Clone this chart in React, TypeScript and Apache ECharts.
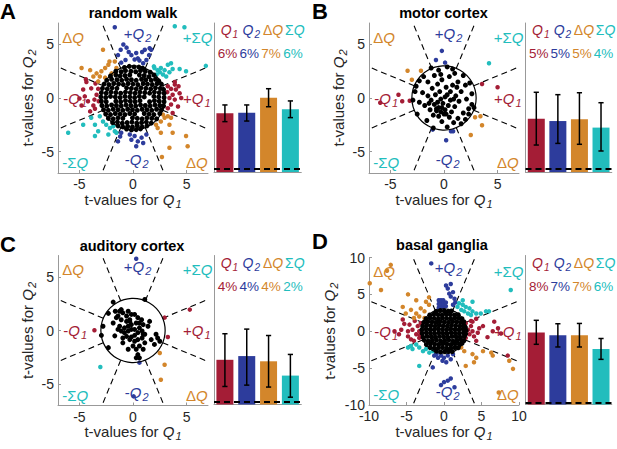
import React, { useEffect, useRef } from 'react';
import * as echarts from 'echarts';

// ---------------- data ----------------
const panelLetters = ['A', 'B', 'C', 'D'];
const panelTitles = ['random walk', 'motor cortex', 'auditory cortex', 'basal ganglia'];
const axisLimits = [7, 7, 7, 10];
const tickValues = [[-5, 0, 5], [-5, 0, 5], [-5, 0, 5], [-10, -5, 0, 5, 10]];
const circleRadius = 3;
const boundaryAngles = [22.5, 67.5, 112.5, 157.5, 202.5, 247.5, 292.5, 337.5];
const barCategories = ['Q1', 'Q2', 'ΔQ', 'ΣQ'];

const percentA = ['6%', '6%', '7%', '6%'];
const percentB = ['5%', '5%', '5%', '4%'];
const percentC = ['4%', '4%', '4%', '2%'];
const percentD = ['8%', '7%', '7%', '6%'];

const barA = [0.394, 0.398, 0.499, 0.421];
const errLowA = [0.338, 0.342, 0.438, 0.365];
const errHighA = [0.45, 0.45, 0.559, 0.477];
const barB = [0.358, 0.342, 0.354, 0.298];
const errLowB = [0.181, 0.192, 0.186, 0.141];
const errHighB = [0.535, 0.519, 0.532, 0.465];
const barC = [0.30, 0.325, 0.29, 0.194];
const errLowC = [0.121, 0.13, 0.117, 0.049];
const errHighC = [0.475, 0.506, 0.463, 0.336];
const barD = [0.483, 0.465, 0.465, 0.372];
const errLowD = [0.404, 0.386, 0.386, 0.303];
const errHighD = [0.565, 0.542, 0.544, 0.443];
const chanceLevels = [0.02, 0.02, 0.017, 0.013];

// --- panel A: random walk ---
const blackA = [
  [-0.8,2.85],[-0.35,2.95],[0.1,2.9],[0.55,2.88],[0.9,2.78],
  [-1.6,2.5],[-1.1,2.45],[-0.7,2.55],[-0.2,2.5],[0.25,2.45],[0.7,2.55],[1.15,2.5],[1.6,2.4],
  [-2.1,2.05],[-1.6,2.15],[-1.2,2.05],[-0.75,2.1],[-0.3,2.15],[0.6,2.15],[1.05,2.1],[1.5,2.0],[1.95,2.15],
  [-2.45,1.65],[-2.0,1.75],[-1.5,1.7],[-1.05,1.65],[-0.6,1.75],[-0.15,1.7],[0.3,1.65],[0.8,1.75],[1.2,1.7],[1.7,1.65],[2.1,1.75],[2.4,1.6],
  [-2.7,1.3],[-2.25,1.25],[-1.8,1.35],[-1.35,1.3],[-0.9,1.25],[-0.45,1.35],[0.0,1.3],[0.45,1.25],[0.95,1.35],[1.35,1.3],[1.8,1.25],[2.25,1.35],[2.65,1.3],
  [-2.85,0.9],[-2.4,0.85],[-1.95,0.95],[-1.5,0.9],[-0.6,0.95],[-0.15,0.9],[0.3,0.85],[0.75,0.95],[1.2,0.9],[1.65,0.85],[2.1,0.95],[2.55,0.9],[2.85,0.8],
  [-2.95,0.5],[-2.5,0.45],[-2.05,0.55],[-1.6,0.5],[-1.15,0.45],[-0.7,0.55],[-0.25,0.5],[0.2,0.45],[0.65,0.55],[1.1,0.5],[1.55,0.45],[2.0,0.55],[2.45,0.5],[2.9,0.45],
  [-3.0,0.1],[-2.55,0.05],[-2.1,0.15],[-1.65,0.1],[-1.2,0.05],[-0.75,0.15],[-0.3,0.1],[0.15,0.05],[0.6,0.15],[1.05,0.1],[1.95,0.15],[2.4,0.1],[2.9,0.05],
  [-2.95,-0.3],[-2.5,-0.35],[-1.6,-0.3],[-1.15,-0.35],[-0.7,-0.25],[-0.25,-0.3],[0.2,-0.35],[0.65,-0.25],[1.55,-0.35],[2.0,-0.25],[2.45,-0.3],[2.9,-0.35],
  [-2.9,-0.7],[-2.45,-0.75],[-2.0,-0.65],[-1.55,-0.7],[-1.1,-0.75],[-0.65,-0.65],[-0.2,-0.7],[0.25,-0.75],[0.7,-0.65],[1.15,-0.7],[1.6,-0.75],[2.05,-0.65],[2.5,-0.7],[2.85,-0.75],
  [-2.75,-1.1],[-2.3,-1.15],[-1.85,-1.05],[-1.4,-1.1],[-0.95,-1.15],[-0.5,-1.05],[-0.05,-1.1],[0.4,-1.15],[0.85,-1.05],[1.3,-1.1],[1.75,-1.15],[2.2,-1.05],[2.65,-1.1],
  [-2.55,-1.5],[-2.1,-1.55],[-1.65,-1.45],[-1.2,-1.5],[-0.75,-1.55],[-0.3,-1.45],[0.15,-1.5],[1.05,-1.45],[1.5,-1.5],[1.95,-1.55],[2.5,-1.45],
  [-2.3,-1.9],[-1.85,-1.95],[-1.4,-1.85],[-0.95,-1.9],[-0.05,-1.85],[0.4,-1.9],[0.85,-1.95],[1.3,-1.85],[1.75,-1.9],[2.2,-1.95],
  [-1.9,-2.3],[-1.45,-2.25],[-1.0,-2.35],[-0.55,-2.3],[-0.1,-2.25],[0.35,-2.35],[0.8,-2.3],[1.25,-2.25],[1.7,-2.35],
  [-1.4,-2.6],[-0.95,-2.7],[-0.5,-2.65],[-0.05,-2.7],[0.4,-2.6],[0.85,-2.7],[1.3,-2.6],
  [-0.6,-2.9],[-0.15,-2.98],[0.3,-2.95],[0.7,-2.88],
];
const q1A = [
  [-4.4,1.75],[-4.35,1.5],[-4.65,0.8],[-4.5,0.15],[-4.2,-0.3],[-3.7,-0.7],[-3.55,-1.0],[-3.9,0.9],[-3.4,0.3],[-3.25,0.85],
  [-3.6,-0.15],[-3.5,1.35],[-5.0,-0.05],[-4.8,-0.7],[-4.0,-1.25],[-3.2,-0.3],
  [3.25,1.1],[3.55,0.85],[3.9,1.25],[4.0,0.8],[4.25,1.1],[4.35,0.45],[3.7,0.3],[3.4,0.0],[3.9,-0.15],[3.55,-0.6],
  [4.2,-0.8],[3.25,-0.95],[3.7,-1.4],[3.2,0.55],[4.5,0.0],[3.9,1.5],
];
const q2A = [
  [-1.7,6.6],[-0.9,5.0],[-0.6,4.7],[-0.4,4.3],[-1.4,4.0],[-1.15,4.5],[-0.15,4.0],[0.15,3.6],[0.45,3.7],[0.85,4.3],
  [1.1,4.5],[1.55,4.65],[1.7,4.5],[1.5,4.0],[1.25,3.55],[0.6,3.5],[0.3,4.2],[-0.7,3.55],[-1.1,3.3],[0.95,3.25],
  [-1.4,-4.05],[-0.15,-3.9],[0.15,-3.55],[0.45,-4.05],[0.8,-3.7],[0.95,-4.2],[0.3,-4.5],[1.25,-3.4],[-0.3,-3.4],[-1.1,-3.25],[-1.2,-3.6],
];
const dqA = [
  [-2.8,4.5],[-4.0,2.6],[-3.4,2.3],[-3.1,2.0],[-2.95,2.5],[-2.6,2.8],[-2.3,3.1],[-2.2,3.4],[-1.7,3.4],[-1.55,2.8],
  [-2.0,2.3],[-2.6,1.9],[-3.25,1.55],[-3.7,2.0],[-4.8,2.8],
  [2.6,-2.2],[2.95,-1.85],[3.25,-1.7],[3.55,-1.85],[3.4,-2.5],[2.3,-2.8],[2.6,-3.25],[3.7,-3.25],[4.95,-3.55],[5.1,-4.5],
  [3.4,-4.65],[2.15,-2.5],[2.8,-1.55],[2.7,-5.5],
];
const sqA = [
  [3.9,6.7],[4.8,6.6],[2.0,2.8],[2.3,2.6],[2.6,2.8],[2.95,2.6],[3.25,3.1],[3.55,3.25],[3.7,2.7],[3.4,2.4],
  [2.5,2.4],[2.2,2.2],[2.8,2.2],[1.95,2.95],[4.35,2.7],[4.95,2.5],[6.8,3.0],[3.1,2.0],
  [-6.05,-3.25],[-3.9,-1.85],[-3.55,-2.5],[-3.25,-3.1],[-3.55,-3.55],[-2.8,-2.2],[-2.5,-2.5],[-2.15,-2.8],[-1.85,-2.65],
  [-1.7,-3.1],[-1.55,-3.25],[-3.1,-1.7],[-2.3,-3.4],[-4.65,-2.5],
];

// --- panel B: motor cortex ---
const blackB = [
  [-1.2,2.8],[0.3,2.9],[-0.5,2.6],[1.0,2.3],[1.8,2.1],[-1.9,2.0],[-0.9,2.1],[0.5,2.0],[2.4,1.4],[-2.6,1.1],
  [-1.5,1.5],[-0.2,1.7],[1.3,1.5],[2.0,1.2],[0.8,1.2],[-0.6,1.3],[-1.1,0.9],[0.2,1.0],[1.6,0.6],[2.6,0.4],
  [-2.0,0.5],[-0.4,0.6],[0.6,0.6],[-1.5,0.2],[-0.8,0.3],[0.3,0.3],[1.1,0.2],[2.1,-0.1],[-2.9,-0.2],[-2.3,-0.4],
  [-1.2,-0.2],[-0.3,-0.1],[0.6,-0.2],[1.4,-0.3],[2.6,-0.6],[-1.8,-0.7],[-0.9,-0.6],[-0.5,-0.9],[-0.1,-0.5],[0.4,-0.7],
  [1.0,-0.8],[2.3,-1.0],[2.8,-0.9],[-1.3,-1.1],[-0.7,-1.2],[-0.3,-1.3],[0.1,-1.1],[0.7,-1.3],[1.8,-1.4],[-2.5,-1.5],
  [-1.0,-1.6],[-0.5,-1.7],[0.0,-1.5],[0.5,-1.8],[1.3,-1.9],[2.0,-2.0],[-1.6,-2.1],[-0.2,-2.2],[0.9,-2.3],[-1.0,-2.8],
  [0.3,-2.7],[1.6,-2.4],[-0.7,-1.0],[-0.2,-0.9],[0.2,-1.5],[-0.6,-0.4],[0.1,0.1],[0.9,-0.1],[-1.4,-0.5],[1.2,1.0],
  [-0.3,2.2],[0.8,2.7],[-2.3,1.6],[2.3,-1.5],[-2.7,0.6],
];
const q1B = [[-5.95,-0.45],[-4.25,0.3],[-3.9,-0.3],[-3.2,-0.25],[3.55,1.3],[5.0,1.0]];
const q2B = [[-0.2,4.4],[-0.75,3.55],[0.1,3.3],[-1.05,-2.95],[0.65,-3.1],[0.85,-3.1],[0.2,-3.95]];
const dqB = [[-3.4,2.55],[-2.15,2.55],[-3.0,1.7],[2.9,-1.8],[3.4,-1.7],[3.55,-2.55],[2.5,-3.45]];
const sqB = [[4.2,3.25]];

// --- panel C: auditory cortex ---
const blackC = [
  [-1.85,2.65],[1.1,2.9],[-2.3,1.6],[-1.65,1.8],[-1.25,1.8],[-0.95,1.65],[-0.6,1.35],[-1.4,1.35],[-1.1,1.0],[-0.6,0.85],
  [-0.3,1.0],[0.15,1.5],[0.45,1.2],[0.8,1.0],[0.95,0.55],[0.6,0.7],[0.3,0.7],[-0.15,0.55],[-0.45,0.4],[-0.8,0.25],
  [-1.25,0.4],[-1.4,0.1],[-1.1,-0.05],[-0.8,-0.2],[-0.45,-0.05],[-0.15,0.1],[0.15,0.1],[0.6,0.25],[0.85,-0.05],[0.95,-0.35],
  [0.45,-0.2],[0.15,-0.45],[-0.15,-0.6],[-0.3,-0.85],[0.15,-1.0],[0.45,-0.85],[0.85,-0.7],[1.1,-1.15],[0.6,-1.45],[0.3,-1.75],
  [0.45,-2.25],[0.6,-2.55],[0.3,-2.55],[0.0,-1.45],[-0.6,-0.55],[-0.95,-0.7],[-2.8,0.4],[-2.95,-0.45],[-2.3,-1.6],[2.15,-0.35],
  [2.3,-0.7],[2.5,-1.0],[2.0,-1.3],[1.7,-0.85],[1.1,-0.35],[-1.1,1.95],[-1.55,1.2],[-1.85,0.7],[-1.7,-0.5],[-0.15,1.5],
  [-0.45,1.8],[1.55,0.85],[1.4,0.4],[-0.95,-1.15],[-0.45,-1.75],[0.95,-1.75],[-0.3,0.85],
];
const q1C = [[5.3,1.95],[2.95,1.2],[-3.6,0.03],[3.25,-0.6]];
const q2C = [[0.3,6.7],[0.6,-3.0],[0.06,-6.15]];
const dqC = [[2.5,-2.1],[2.95,-3.2],[2.6,-4.6]];
const sqC = [[-3.05,-3.4]];

// --- panel D: basal ganglia ---
const blackD = [
  [-1.05,2.7],[-0.5,2.8],[0.05,2.75],[0.55,2.7],[1.0,2.75],
  [-1.9,2.2],[-1.35,2.3],[-0.8,2.25],[-0.25,2.2],[0.3,2.3],[0.85,2.25],[1.4,2.2],[1.9,2.25],
  [-2.4,1.7],[-1.85,1.8],[-1.3,1.75],[-0.75,1.7],[-0.2,1.8],[0.35,1.75],[0.9,1.7],[1.45,1.8],[2.0,1.75],[2.4,1.7],
  [-2.7,1.2],[-2.15,1.3],[-1.6,1.25],[-1.05,1.2],[-0.5,1.3],[0.05,1.25],[0.6,1.2],[1.15,1.3],[1.7,1.25],[2.25,1.2],[2.65,1.3],
  [-2.85,0.7],[-2.3,0.8],[-1.75,0.75],[-1.2,0.7],[-0.65,0.8],[-0.1,0.75],[0.45,0.7],[1.0,0.8],[1.55,0.75],[2.1,0.7],[2.65,0.8],[2.85,0.55],
  [-2.95,0.2],[-2.4,0.3],[-1.85,0.25],[-1.3,0.2],[-0.75,0.3],[-0.2,0.25],[0.35,0.2],[0.9,0.3],[1.45,0.25],[2.0,0.2],[2.55,0.3],[2.95,0.1],
  [-2.9,-0.3],[-2.35,-0.2],[-1.8,-0.25],[-1.25,-0.3],[-0.7,-0.2],[-0.15,-0.25],[0.4,-0.3],[0.95,-0.2],[1.5,-0.25],[2.05,-0.3],[2.6,-0.2],[2.9,-0.35],
  [-2.8,-0.8],[-2.25,-0.7],[-1.7,-0.75],[-1.15,-0.8],[-0.6,-0.7],[-0.05,-0.75],[0.5,-0.8],[1.05,-0.7],[1.6,-0.75],[2.15,-0.8],[2.7,-0.7],
  [-2.65,-1.2],[-2.1,-1.3],[-1.55,-1.25],[-1.0,-1.2],[-0.45,-1.3],[0.1,-1.25],[0.65,-1.2],[1.2,-1.3],[1.75,-1.25],[2.3,-1.2],[2.65,-1.3],
  [-2.35,-1.8],[-1.8,-1.7],[-1.25,-1.75],[-0.7,-1.8],[-0.15,-1.7],[0.4,-1.75],[0.95,-1.8],[1.5,-1.7],[2.05,-1.75],[2.4,-1.65],
  [-1.85,-2.2],[-1.3,-2.3],[-0.75,-2.25],[-0.2,-2.2],[0.35,-2.3],[0.9,-2.25],[1.45,-2.2],[1.9,-2.25],
  [-1.0,-2.7],[-0.45,-2.8],[0.1,-2.75],[0.65,-2.7],[1.1,-2.75],
];
const q1D = [
  [2.9,1.1],[3.6,1.4],[3.8,1.3],[4.3,1.7],[3.6,0.7],[3.2,0.2],[3.8,0.0],[3.4,-0.4],[4.0,-0.7],[4.5,-0.2],
  [4.7,0.4],[2.9,-0.9],[6.7,1.3],[7.2,0.4],[8.5,-3.3],[6.5,0.0],[5.2,0.7],[4.3,-1.3],[7.6,-0.3],[5.8,-0.8],
  [-5.5,1.6],[-5.3,1.0],[-5.7,0.2],[-6.0,-0.4],[-4.8,-0.7],[-4.4,-1.1],[-3.7,-0.4],[-3.3,0.0],[-3.5,0.7],[-3.1,1.1],
  [-3.3,-0.9],[-4.0,-1.3],[-4.8,0.0],[-4.2,0.2],[-6.6,0.0],[-4.6,0.9],[-3.2,-0.5],[-3.9,1.4],
];
const q2D = [
  [-1.7,9.2],[-0.7,3.2],[-0.7,3.7],[-0.7,4.2],[-0.4,3.2],[-0.4,3.7],[-0.4,4.2],[-0.1,3.2],[-0.1,3.7],[-0.1,4.2],
  [0.25,3.4],[0.25,3.9],[0.27,6.2],[0.5,5.8],[0.9,6.4],[1.2,5.3],[0.9,4.7],[1.4,4.4],[0.7,5.1],[1.5,3.9],[1.2,3.6],
  [-1.3,-3.3],[-0.8,-3.6],[-0.4,-3.3],[0.0,-3.6],[0.5,-3.3],[0.9,-3.8],[-0.2,-4.0],[0.3,-4.2],[-1.5,-4.9],[1.2,-3.1],
  [-0.4,-7.3],[0.0,-6.9],[0.5,-6.7],[0.9,-6.4],[1.4,-7.6],[-1.0,-3.1],
];
const dqD = [
  [-9.9,6.5],[-8.4,5.6],[-7.1,9.0],[-7.6,8.2],[-4.8,5.0],[-3.7,4.2],[-2.4,4.0],[-2.0,3.6],[-3.1,3.1],[-4.4,2.9],
  [-5.5,3.3],[-5.1,2.4],[-3.7,2.4],[-3.3,2.0],[-2.6,1.8],[-4.0,1.8],[-2.6,2.7],[-2.0,4.6],
  [2.3,-2.2],[2.7,-2.7],[3.8,-3.1],[4.3,-3.6],[4.0,-4.2],[5.2,-2.7],[6.3,-2.9],[6.5,-3.3],[9.2,-5.1],[2.9,-4.7],
  [8.7,-4.0],[7.3,-8.3],
];
const sqD = [
  [8.9,5.6],[2.0,3.8],[2.5,3.6],[2.9,3.3],[3.4,3.1],[2.3,2.9],[2.7,2.7],[3.8,2.7],[4.3,2.4],[4.9,2.4],
  [5.6,2.7],[6.0,2.7],[3.2,2.4],[3.6,2.2],[1.8,3.3],[2.5,4.2],[3.8,4.0],
  [-4.8,-2.2],[-4.2,-2.4],[-3.3,-2.2],[-2.8,-2.7],[-2.4,-2.4],[-1.96,-2.9],[-1.5,-2.7],[-3.3,-4.7],[-3.7,-1.8],[-4.4,-2.0],
];

// --------------- styling / layout ---------------
const FONT = '"Liberation Sans", Arial, Helvetica, sans-serif';
const RED = '#A41D36';
const BLUE = '#2D3C9C';
const ORANGE = '#D3862B';
const CYAN = '#22BDBD';
const TEXT = '#262626';
const AXIS = '#999999';
const barColors = [RED, BLUE, ORANGE, CYAN];

const layout = [
  { sx: 58, sy: 23, sh: 150, bx: 214, by: 23, bw: 87.3, bh: 149, xGap: 16, yGap: 21 },
  { sx: 369, sy: 23, sh: 150, bx: 525.5, by: 23, bw: 86.3, bh: 149, xGap: 16, yGap: 20 },
  { sx: 58, sy: 255.5, sh: 150, bx: 214, by: 255.5, bw: 87.3, bh: 149, xGap: 13, yGap: 21 },
  { sx: 369, sy: 257.5, sh: 147.5, bx: 525.5, by: 255.5, bw: 86.3, bh: 149, xGap: 12, yGap: 30 },
];
const letterPos = [[8, 0], [320, 0], [8, 233], [320, 230]];
const titlePos = [[133, 12.5], [443.5, 12.5], [132, 246], [442, 245]];

const sectorLabelFrac = [
  [-0.8, 0.81], [0.06, 0.86], [0.86, 0.81], [-0.77, 0], [0.85, 0], [-0.77, -0.86], [0.05, -0.82], [0.85, -0.86],
];
const sectorLabelText = [
  '{n|Δ}{q|Q}', '{n|+}{q|Q}{s|2}', '{n|+Σ}{q|Q}', '{n|-}{q|Q}{s|1}', '{n|+}{q|Q}{s|1}', '{n|-Σ}{q|Q}', '{n|-}{q|Q}{s|2}', '{n|Δ}{q|Q}',
];
const sectorLabelColor = [ORANGE, BLUE, CYAN, RED, RED, CYAN, BLUE, ORANGE];
const barLabelText = ['{q|Q}{s|1}', '{q|Q}{s|2}', '{n|Δ}{q|Q}', '{n|Σ}{q|Q}'];

function rich(color: string, size = 15, sub = 11) {
  return {
    n: { color, fill: color, fontSize: size, fontFamily: FONT },
    q: { color, fill: color, fontSize: size, fontStyle: 'italic', fontFamily: FONT },
    s: { color, fill: color, fontSize: sub, fontStyle: 'italic', fontFamily: FONT, padding: [9, 0, 0, 1] },
  };
}

const panels = [
  { black: blackA, q1: q1A, q2: q2A, dq: dqA, sq: sqA, bars: barA, lo: errLowA, hi: errHighA, pct: percentA },
  { black: blackB, q1: q1B, q2: q2B, dq: dqB, sq: sqB, bars: barB, lo: errLowB, hi: errHighB, pct: percentB },
  { black: blackC, q1: q1C, q2: q2C, dq: dqC, sq: sqC, bars: barC, lo: errLowC, hi: errHighC, pct: percentC },
  { black: blackD, q1: q1D, q2: q2D, dq: dqD, sq: sqD, bars: barD, lo: errLowD, hi: errHighD, pct: percentD },
];

function buildOption() {
  const grid: any[] = [];
  const xAxis: any[] = [];
  const yAxis: any[] = [];
  const series: any[] = [];
  const graphic: any[] = [];

  panels.forEach((p, i) => {
    const L = layout[i];
    const M = axisLimits[i];
    const sIdx = i * 2;
    const bIdx = i * 2 + 1;

    grid.push({ left: L.sx, top: L.sy, width: 150, height: L.sh });
    grid.push({ left: L.bx, top: L.by, width: L.bw, height: L.bh });

    const axisNameRich = {
      q: { color: TEXT, fontSize: 15, fontStyle: 'italic', fontFamily: FONT },
      s: { color: TEXT, fontSize: 11, fontStyle: 'italic', fontFamily: FONT, padding: [9, 0, 0, 1] },
    };

    xAxis.push({
      type: 'value', gridIndex: sIdx, min: -M, max: M,
      axisLine: { show: true, onZero: false, lineStyle: { color: AXIS, width: 1 } },
      axisTick: { show: true, inside: true, length: 3, customValues: tickValues[i], lineStyle: { color: AXIS } },
      axisLabel: { customValues: tickValues[i], color: TEXT, fontSize: 14, margin: 4, fontFamily: FONT },
      splitLine: { show: false },
      name: 't-values for {q|Q}{s|1}', nameLocation: 'middle', nameGap: L.xGap,
      nameTextStyle: { color: TEXT, fontSize: 15, fontFamily: FONT, rich: axisNameRich },
    });
    xAxis.push({
      type: 'category', gridIndex: bIdx, data: barCategories,
      axisLine: { show: true, lineStyle: { color: AXIS, width: 1 } },
      axisTick: { show: false }, axisLabel: { show: false }, splitLine: { show: false },
    });
    yAxis.push({
      type: 'value', gridIndex: sIdx, min: -M, max: M,
      axisLine: { show: true, onZero: false, lineStyle: { color: AXIS, width: 1 } },
      axisTick: { show: true, inside: true, length: 3, customValues: tickValues[i], lineStyle: { color: AXIS } },
      axisLabel: { customValues: tickValues[i], color: TEXT, fontSize: 14, margin: 4, fontFamily: FONT },
      splitLine: { show: false },
      name: 't-values for {q|Q}{s|2}', nameLocation: 'middle', nameGap: L.yGap,
      nameTextStyle: { color: TEXT, fontSize: 15, fontFamily: FONT, rich: axisNameRich },
    });
    yAxis.push({
      type: 'value', gridIndex: bIdx, min: 0, max: 1,
      axisLine: { show: true, lineStyle: { color: AXIS, width: 1 } },
      axisTick: { show: false }, axisLabel: { show: false }, splitLine: { show: false },
    });

    // sector boundaries (dashed rays from the circle outwards)
    series.push({
      type: 'custom', xAxisIndex: sIdx, yAxisIndex: sIdx, silent: true, clip: true, z: 1,
      data: boundaryAngles.map((a) => [0, 0, a]),
      renderItem: (params: any, api: any) => {
        const a = (api.value(2) * Math.PI) / 180;
        const c = Math.cos(a);
        const s = Math.sin(a);
        const t = M / Math.max(Math.abs(c), Math.abs(s));
        const p1 = api.coord([circleRadius * c, circleRadius * s]);
        const p2 = api.coord([t * c, t * s]);
        return {
          type: 'line',
          shape: { x1: p1[0], y1: p1[1], x2: p2[0], y2: p2[1] },
          style: { stroke: '#000', lineWidth: 1.1, lineDash: [6, 4], fill: null },
        };
      },
    });

    const dot = (data: number[][], color: string, size: number, z: number) => ({
      type: 'scatter', xAxisIndex: sIdx, yAxisIndex: sIdx, data, symbolSize: size, silent: true, z,
      itemStyle: { color, opacity: 1 },
    });
    series.push(dot(p.q1, RED, 4.5, 2));
    series.push(dot(p.q2, BLUE, 4.5, 2));
    series.push(dot(p.dq, ORANGE, 4.5, 2));
    series.push(dot(p.sq, CYAN, 4.5, 2));
    series.push(dot(p.black, '#000', 5, 3));

    // significance circle
    series.push({
      type: 'custom', xAxisIndex: sIdx, yAxisIndex: sIdx, silent: true, z: 4,
      data: [[0, 0, circleRadius]],
      renderItem: (params: any, api: any) => {
        const c = api.coord([api.value(0), api.value(1)]);
        const r = api.size([api.value(2), 0])[0];
        return { type: 'circle', shape: { cx: c[0], cy: c[1], r }, style: { fill: null, stroke: '#000', lineWidth: 1.2 } };
      },
    });

    // sector labels
    series.push({
      type: 'custom', xAxisIndex: sIdx, yAxisIndex: sIdx, silent: true, z: 5,
      data: sectorLabelFrac.map(([fx, fy]) => [fx * M, fy * M]),
      renderItem: (params: any, api: any) => {
        const k = params.dataIndex;
        const c = api.coord([api.value(0), api.value(1)]);
        const col = sectorLabelColor[k];
        return {
          type: 'text', x: c[0], y: c[1],
          style: {
            text: sectorLabelText[k], rich: rich(col), fill: col, fontSize: 15, fontFamily: FONT,
            align: 'center', verticalAlign: 'middle', textAlign: 'center', textVerticalAlign: 'middle',
          },
        };
      },
    });

    // bars
    series.push({
      type: 'bar', xAxisIndex: bIdx, yAxisIndex: bIdx, silent: true, barWidth: 17, z: 2,
      data: p.bars.map((v, k) => ({ value: v, itemStyle: { color: barColors[k] } })),
      markLine: {
        silent: true, symbol: 'none', label: { show: false },
        lineStyle: { color: '#000', type: [6, 4], width: 2 },
        data: [{ yAxis: chanceLevels[i] }],
      },
    });
    // error bars
    series.push({
      type: 'custom', xAxisIndex: bIdx, yAxisIndex: bIdx, silent: true, z: 5,
      data: p.bars.map((v, k) => [k, p.lo[k], p.hi[k]]),
      renderItem: (params: any, api: any) => {
        const k = api.value(0);
        const lo = api.coord([k, api.value(1)]);
        const hi = api.coord([k, api.value(2)]);
        const w = 2.6;
        const st = { stroke: '#000', lineWidth: 1.5 };
        return {
          type: 'group',
          children: [
            { type: 'line', shape: { x1: lo[0], y1: lo[1], x2: hi[0], y2: hi[1] }, style: st },
            { type: 'line', shape: { x1: lo[0] - w, y1: lo[1], x2: lo[0] + w, y2: lo[1] }, style: st },
            { type: 'line', shape: { x1: hi[0] - w, y1: hi[1], x2: hi[0] + w, y2: hi[1] }, style: st },
          ],
        };
      },
    });
    // labels above bars
    series.push({
      type: 'custom', xAxisIndex: bIdx, yAxisIndex: bIdx, silent: true, z: 5,
      data: barCategories.map((c, k) => [k, 1]),
      renderItem: (params: any, api: any) => {
        const k = params.dataIndex;
        const top = api.coord([api.value(0), api.value(1)]);
        const col = barColors[k];
        return {
          type: 'group',
          children: [
            {
              type: 'text', x: top[0] + 4.5, y: top[1] + 7,
              style: { text: barLabelText[k], rich: rich(col, 14, 10), fill: col, fontSize: 14, fontFamily: FONT, align: 'center', verticalAlign: 'middle' },
            },
            {
              type: 'text', x: top[0] + 2.5, y: top[1] + 30.5,
              style: { text: p.pct[k], fill: col, fontSize: 13.5, fontFamily: FONT, align: 'center', verticalAlign: 'middle' },
            },
          ],
        };
      },
    });

    graphic.push({
      type: 'text', x: letterPos[i][0], y: letterPos[i][1], silent: true,
      style: { text: panelLetters[i], fill: '#000', fontSize: 22, fontWeight: 'bold', fontFamily: FONT, align: 'center', verticalAlign: 'top', textAlign: 'center', textVerticalAlign: 'top' },
    });
    graphic.push({
      type: 'text', x: titlePos[i][0], y: titlePos[i][1], silent: true,
      style: { text: panelTitles[i], fill: '#000', fontSize: 14.5, fontWeight: 'bold', fontFamily: FONT, align: 'center', verticalAlign: 'middle', textAlign: 'center', textVerticalAlign: 'middle' },
    });
  });

  return { animation: false, textStyle: { fontFamily: FONT }, grid, xAxis, yAxis, series, graphic };
}

export default function App() {
  const ref = useRef<HTMLDivElement>(null);
  useEffect(() => {
    document.body.style.margin = '0';
    if (!ref.current) return;
    const chart = echarts.init(ref.current, undefined, { renderer: 'svg' });
    chart.setOption(buildOption() as any);
    return () => chart.dispose();
  }, []);
  return <div ref={ref} style={{ width: 617, height: 449, background: '#fff' }} />;
}
